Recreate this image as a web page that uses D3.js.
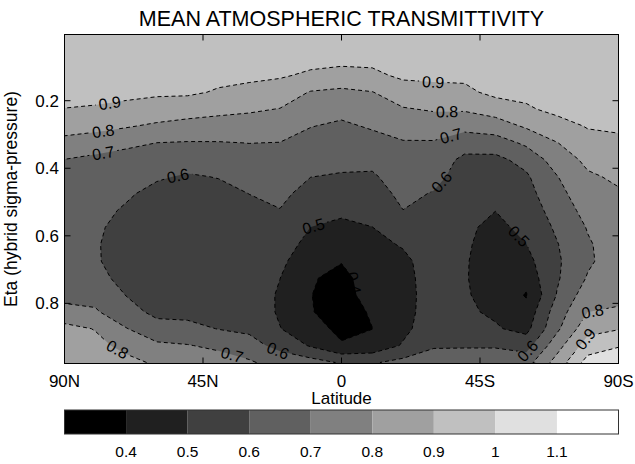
<!DOCTYPE html>
<html>
<head>
<meta charset="utf-8">
<script src="https://cdn.jsdelivr.net/npm/d3@7"></script>
<style>
  body { margin: 0; background: #fff; }
  text { font-family: "Liberation Sans", Arial, Helvetica, sans-serif; fill: #000; }
</style>
</head>
<body>
<svg id="chart" width="635" height="464"></svg>
<script>
// ---------------- data ----------------
const chartTitle = "MEAN ATMOSPHERIC TRANSMITTIVITY";
const xAxisTitle = "Latitude";
const yAxisTitle = "Eta (hybrid sigma-pressure)";

// grid columns: latitude (deg, + = N), 90N -> 90S
const latitudes = [90, 80, 70, 60, 50, 40, 30, 20, 10, 0, -10, -20, -30, -40, -50, -60, -70, -80, -90];
// grid rows: eta levels (top -> bottom)
const etaLevels = [0.025, 0.075, 0.125, 0.175, 0.225, 0.275, 0.325, 0.375, 0.425, 0.475,
                   0.525, 0.575, 0.625, 0.675, 0.725, 0.775, 0.825, 0.875, 0.925, 0.975];

// transmittivity, one row per eta level, one value per latitude
const transmittivity = [
  [0.97, 0.97, 0.97, 0.965, 0.965, 0.96, 0.955, 0.95, 0.95, 0.95, 0.95, 0.955, 0.955, 0.96, 0.965, 0.97, 0.975, 0.98, 0.98],
  [0.96, 0.96, 0.96, 0.955, 0.95, 0.945, 0.94, 0.935, 0.93, 0.93, 0.925, 0.935, 0.935, 0.94, 0.95, 0.96, 0.965, 0.975, 0.975],
  [0.95, 0.945, 0.94, 0.935, 0.93, 0.925, 0.92, 0.91, 0.885, 0.865, 0.88, 0.917, 0.922, 0.92, 0.935, 0.95, 0.955, 0.965, 0.965],
  [0.93, 0.925, 0.92, 0.915, 0.915, 0.891, 0.873, 0.855, 0.794, 0.78, 0.797, 0.855, 0.866, 0.878, 0.925, 0.925, 0.935, 0.95, 0.955],
  [0.898, 0.892, 0.879, 0.858, 0.843, 0.826, 0.813, 0.797, 0.748, 0.727, 0.754, 0.793, 0.809, 0.811, 0.844, 0.887, 0.925, 0.93, 0.935],
  [0.84, 0.827, 0.808, 0.785, 0.768, 0.76, 0.756, 0.747, 0.703, 0.685, 0.71, 0.738, 0.748, 0.729, 0.753, 0.813, 0.861, 0.907, 0.914],
  [0.771, 0.753, 0.729, 0.699, 0.694, 0.695, 0.701, 0.698, 0.668, 0.654, 0.668, 0.693, 0.692, 0.648, 0.652, 0.718, 0.797, 0.865, 0.881],
  [0.698, 0.675, 0.648, 0.655, 0.642, 0.65, 0.667, 0.673, 0.634, 0.624, 0.625, 0.67, 0.659, 0.575, 0.575, 0.632, 0.745, 0.822, 0.848],
  [0.68, 0.655, 0.63, 0.61, 0.59, 0.604, 0.634, 0.647, 0.601, 0.592, 0.588, 0.646, 0.626, 0.56, 0.558, 0.586, 0.696, 0.787, 0.815],
  [0.665, 0.64, 0.612, 0.575, 0.56, 0.57, 0.601, 0.622, 0.567, 0.553, 0.559, 0.623, 0.594, 0.54, 0.53, 0.565, 0.669, 0.76, 0.79],
  [0.655, 0.625, 0.59, 0.555, 0.545, 0.55, 0.575, 0.597, 0.533, 0.515, 0.529, 0.599, 0.575, 0.525, 0.501, 0.543, 0.642, 0.733, 0.77],
  [0.65, 0.612, 0.575, 0.545, 0.537, 0.54, 0.56, 0.57, 0.499, 0.482, 0.499, 0.553, 0.56, 0.515, 0.48, 0.521, 0.616, 0.706, 0.755],
  [0.65, 0.607, 0.567, 0.54, 0.533, 0.535, 0.55, 0.545, 0.47, 0.453, 0.475, 0.508, 0.55, 0.51, 0.47, 0.499, 0.595, 0.69, 0.748],
  [0.655, 0.608, 0.567, 0.54, 0.533, 0.535, 0.545, 0.52, 0.44, 0.405, 0.455, 0.48, 0.545, 0.506, 0.465, 0.47, 0.585, 0.685, 0.75],
  [0.665, 0.625, 0.575, 0.548, 0.537, 0.54, 0.545, 0.501, 0.41, 0.37, 0.45, 0.47, 0.545, 0.505, 0.465, 0.44, 0.588, 0.708, 0.76],
  [0.68, 0.665, 0.598, 0.562, 0.55, 0.55, 0.55, 0.49, 0.402, 0.362, 0.44, 0.465, 0.545, 0.508, 0.47, 0.392, 0.605, 0.754, 0.77],
  [0.72, 0.712, 0.63, 0.58, 0.57, 0.565, 0.562, 0.488, 0.405, 0.36, 0.41, 0.465, 0.55, 0.515, 0.485, 0.435, 0.65, 0.799, 0.815],
  [0.835, 0.795, 0.705, 0.63, 0.63, 0.597, 0.585, 0.503, 0.44, 0.375, 0.399, 0.475, 0.56, 0.53, 0.51, 0.47, 0.68, 0.866, 0.894],
  [0.855, 0.83, 0.77, 0.72, 0.705, 0.68, 0.63, 0.575, 0.49, 0.41, 0.43, 0.51, 0.59, 0.59, 0.59, 0.56, 0.76, 0.947, 0.99],
  [0.865, 0.85, 0.83, 0.785, 0.75, 0.745, 0.715, 0.65, 0.64, 0.59, 0.59, 0.63, 0.65, 0.66, 0.66, 0.66, 0.84, 1.04, 1.09]
];

const contourLevels = [0.4, 0.5, 0.6, 0.7, 0.8, 0.9, 1.0, 1.1];
const bandColors = ["#000000", "#202020", "#404040", "#606060", "#808080", "#a0a0a0", "#c0c0c0", "#e0e0e0", "#ffffff"];

const xTickValues = [90, 45, 0, -45, -90];
const xTickLabels = ["90N", "45N", "0", "45S", "90S"];
const yTickValues = [0.2, 0.4, 0.6, 0.8];

// contour label anchors: [level, latitude, eta]
const contourLabels = [
  [0.9, 75.2, 0.213], [0.8, 77.4, 0.29], [0.7, 77.4, 0.355], [0.6, 53.4, 0.411],
  [0.9, -29.8, 0.145], [0.8, -34.3, 0.228], [0.7, -35.3, 0.296], [0.6, -31.1, 0.429],
  [0.5, 9.2, 0.568], [0.4, -3.8, 0.74], [0.5, -59, 0.589], [0.6, -60.3, 0.939],
  [0.6, 20.6, 0.939], [0.7, 35.5, 0.95], [0.8, 72.6, 0.933], [0.8, -81.5, 0.82], [0.9, -78.5, 0.9]
];

// ---------------- drawing ----------------
const svg = d3.select("#chart");
const P = { x0: 64.5, x1: 618.5, y0: 34.5, y1: 363.5 };
const x = d3.scaleLinear().domain([90, -90]).range([P.x0, P.x1]);
const y = d3.scaleLinear().domain([0.004, 0.978]).range([P.y0, P.y1]);

const defs = svg.append("defs");
defs.append("clipPath").attr("id", "plotclip")
  .append("rect").attr("x", P.x0).attr("y", P.y0).attr("width", P.x1 - P.x0).attr("height", P.y1 - P.y0);

const nx = latitudes.length, ny = etaLevels.length;
const contours = d3.contours().size([nx, ny]).thresholds(contourLevels)(transmittivity.flat());

const dLat = latitudes[1] - latitudes[0], dEta = etaLevels[1] - etaLevels[0];
const gx = c => x(latitudes[0] + (c - 0.5) * dLat);
const gy = c => y(etaLevels[0] + (c - 0.5) * dEta);
const proj = d3.geoTransform({ point(px, py) { this.stream.point(gx(px), gy(py)); } });
const path = d3.geoPath(proj);

const plotG = svg.append("g").attr("clip-path", "url(#plotclip)");
plotG.append("rect").attr("x", P.x0).attr("y", P.y0).attr("width", P.x1 - P.x0).attr("height", P.y1 - P.y0)
  .attr("fill", bandColors[0]);
plotG.selectAll("path.fill").data(contours).join("path").attr("class", "fill")
  .attr("d", path).attr("fill", (d, i) => bandColors[i + 1]).attr("fill-rule", "evenodd");

// label placement on contours
function placeLabel(level, lat, eta) {
  const c = contours[contourLevels.indexOf(level)];
  const ax = x(lat), ay = y(eta);
  let best = null;
  c.coordinates.forEach(poly => poly.forEach(ring => {
    const pts = ring.map(p => [gx(p[0]), gy(p[1])]);
    for (let i = 0; i < pts.length - 1; i++) {
      const [x1, y1] = pts[i], [x2, y2] = pts[i + 1];
      const dx = x2 - x1, dy = y2 - y1, L2 = dx * dx + dy * dy || 1e-9;
      let t = ((ax - x1) * dx + (ay - y1) * dy) / L2;
      t = Math.max(0, Math.min(1, t));
      const px = x1 + t * dx, py = y1 + t * dy;
      const d = (px - ax) ** 2 + (py - ay) ** 2;
      if (!best || d < best.d) best = { d, px, py, ang: Math.atan2(dy, dx) * 180 / Math.PI };
    }
  }));
  if (!best) return { px: ax, py: ay, ang: 0 };
  let a = best.ang;
  if (a > 90) a -= 180;
  if (a <= -90) a += 180;
  return { px: best.px, py: best.py, ang: a };
}

const labelData = contourLabels.map(([lv, lat, eta]) => Object.assign({ lv }, placeLabel(lv, lat, eta)));

// mask to break contour lines under labels
const mask = defs.append("mask").attr("id", "lblmask").attr("maskUnits", "userSpaceOnUse")
  .attr("x", 0).attr("y", 0).attr("width", 635).attr("height", 464);
mask.append("rect").attr("x", 0).attr("y", 0).attr("width", 635).attr("height", 464).attr("fill", "#fff");

const strokeG = plotG.append("g").attr("mask", "url(#lblmask)");
strokeG.selectAll("path").data(contours).join("path")
  .attr("d", path).attr("fill", "none").attr("stroke", "#000").attr("stroke-width", 1)
  .attr("stroke-dasharray", "4,3");

const lblG = plotG.append("g");
labelData.forEach(d => {
  const t = lblG.append("text")
    .attr("transform", `translate(${d.px},${d.py}) rotate(${d.ang})`)
    .attr("text-anchor", "middle").attr("dy", "0.36em")
    .attr("font-size", 16).text(String(d.lv));
  const w = t.node().getComputedTextLength();
  mask.append("rect").attr("x", -w / 2 - 3).attr("y", -7).attr("width", w + 6).attr("height", 14)
    .attr("transform", `translate(${d.px},${d.py}) rotate(${d.ang})`).attr("fill", "#000");
});

// frame
svg.append("rect").attr("x", P.x0).attr("y", P.y0).attr("width", P.x1 - P.x0).attr("height", P.y1 - P.y0)
  .attr("fill", "none").attr("stroke", "#000").attr("stroke-width", 1);

// ticks
const tickLen = 6;
const innerX = xTickValues.filter(v => v !== 90 && v !== -90);
svg.selectAll("line.xtb").data(innerX).join("line").attr("class", "xtb")
  .attr("x1", d => x(d)).attr("x2", d => x(d)).attr("y1", P.y1).attr("y2", P.y1 - tickLen)
  .attr("stroke", "#000");
svg.selectAll("line.xtt").data(innerX).join("line").attr("class", "xtt")
  .attr("x1", d => x(d)).attr("x2", d => x(d)).attr("y1", P.y0).attr("y2", P.y0 + tickLen)
  .attr("stroke", "#000");
svg.selectAll("line.ytl").data(yTickValues).join("line").attr("class", "ytl")
  .attr("x1", P.x0).attr("x2", P.x0 + tickLen).attr("y1", d => y(d)).attr("y2", d => y(d))
  .attr("stroke", "#000");
svg.selectAll("line.ytr").data(yTickValues).join("line").attr("class", "ytr")
  .attr("x1", P.x1).attr("x2", P.x1 - tickLen).attr("y1", d => y(d)).attr("y2", d => y(d))
  .attr("stroke", "#000");

// tick labels
svg.selectAll("text.xl").data(xTickValues).join("text").attr("class", "xl")
  .attr("x", d => x(d)).attr("y", 386.5).attr("text-anchor", "middle").attr("font-size", 17)
  .text((d, i) => xTickLabels[i]);
svg.selectAll("text.yl").data(yTickValues).join("text").attr("class", "yl")
  .attr("x", 59).attr("y", d => y(d) + 6).attr("text-anchor", "end").attr("font-size", 17)
  .text(d => String(d));

// titles
svg.append("text").attr("x", (P.x0 + P.x1) / 2).attr("y", 26).attr("text-anchor", "middle")
  .attr("font-size", 21.5).text(chartTitle);
svg.append("text").attr("x", (P.x0 + P.x1) / 2).attr("y", 404).attr("text-anchor", "middle")
  .attr("font-size", 17).text(xAxisTitle);
svg.append("text").attr("transform", `translate(17,${(P.y0 + P.y1) / 2}) rotate(-90)`)
  .attr("text-anchor", "middle").attr("font-size", 17.5).text(yAxisTitle);

// colorbar
const CB = { x0: 64.5, x1: 618.5, y0: 410, y1: 434 };
const cbx = d3.scaleLinear().domain([0, bandColors.length]).range([CB.x0, CB.x1]);
svg.selectAll("rect.cb").data(bandColors).join("rect").attr("class", "cb")
  .attr("x", (d, i) => cbx(i)).attr("width", (d, i) => cbx(i + 1) - cbx(i))
  .attr("y", CB.y0).attr("height", CB.y1 - CB.y0).attr("fill", d => d);
svg.append("rect").attr("x", CB.x0).attr("y", CB.y0).attr("width", CB.x1 - CB.x0).attr("height", CB.y1 - CB.y0)
  .attr("fill", "none").attr("stroke", "#333").attr("stroke-width", 1);
svg.selectAll("text.cbl").data(contourLevels).join("text").attr("class", "cbl")
  .attr("x", (d, i) => cbx(i + 1)).attr("y", 456.5).attr("text-anchor", "middle").attr("font-size", 15.5)
  .text(d => String(d));
</script>
</body>
</html>
